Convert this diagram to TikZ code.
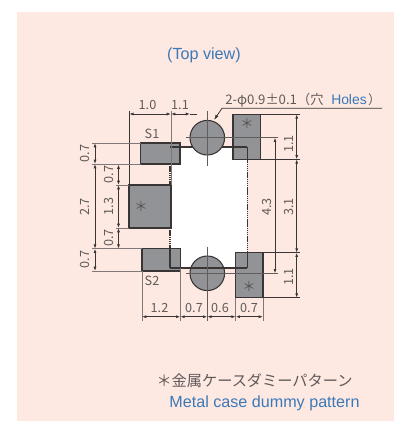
\documentclass[tikz,border=0pt]{standalone}
\usepackage{fontspec}
\setmainfont{Liberation Sans}
\newfontfamily\jpfont{Noto Sans CJK JP}
\usetikzlibrary{arrows.meta}
\definecolor{bgpink}{HTML}{FEE9E2}
\definecolor{padgray}{HTML}{929397}
\definecolor{inkdark}{HTML}{3A3535}
\definecolor{inkgray}{HTML}{7F7878}
\definecolor{txtgray}{HTML}{5F5A59}
\definecolor{txtblue}{HTML}{3B78B8}
\tikzset{
  x=0.75pt,y=-0.75pt,
  padbox/.style={fill=padgray,draw=inkdark,line width=0.8pt},
  extline/.style={draw=inkgray,line width=0.6pt},
  crossline/.style={draw=inkdark!80,line width=0.65pt},
  extdark/.style={draw=inkdark,line width=0.6pt},
  dimline/.style={draw=inkdark,line width=0.55pt,{Latex[length=3.2pt,width=2.2pt]}-{Latex[length=3.2pt,width=2.2pt]}},
  bodyline/.style={draw=inkdark,line width=0.95pt},
  bodydash/.style={draw=inkdark,line width=1pt,dash pattern=on 1.1pt off 0.5pt},
  dimtext/.style={font=\jpfont\fontsize{9.5pt}{11pt}\selectfont,text=txtgray,inner sep=0pt},
  dimv/.style={dimtext,rotate=90},
  startext/.style={font=\jpfont\fontsize{10pt}{12pt}\selectfont,text=inkdark!85,inner sep=0pt},
  bluetext/.style={font=\fontsize{12.1pt}{14pt}\selectfont,text=txtblue,inner sep=0pt},
}
\begin{document}
\begin{tikzpicture}
\useasboundingbox (0,0) rectangle (394,421);
\fill[bgpink] (17,12) rectangle (394,421);
% titles
\node[bluetext] (title) at (204,55) {(Top view)};
% body
\fill[white] (170,147) rectangle (247.3,268);
% pads
\draw[padbox] (140.7,143) rectangle (180,164);
\draw[padbox] (129,185) rectangle (171,228);
\draw[padbox] (142,248.7) rectangle (180.3,271);
\draw[padbox] (233,114.3) rectangle (260.7,159.3);
\draw[padbox] (235.7,252.7) rectangle (263,297.7);
% body outline, top edge runs under the hole
\draw[bodyline] (170,147) -- (247.3,147);
% holes
\draw[padbox] (207.3,137.7) circle (17.3);
\draw[padbox] (207.3,273.3) circle (17.3);
% body outline, rest
\draw[bodyline] (170,268) -- (247.3,268);
\draw[bodydash] (170,164) -- (170,185);
\draw[bodydash] (170,228) -- (170,268);
\draw[bodydash] (247.3,159.3) -- (247.3,252.7);
\draw[bodyline] (247.3,147) -- (247.3,159.3);
\draw[bodyline] (247.3,252.7) -- (247.3,268);
\draw[bodyline] (170,248.7) -- (170,268);
% extension lines, top and left
\draw[extdark] (129.3,111) -- (129.3,185);
\draw[extline] (171,111) -- (171,185);
\draw[crossline] (207.3,111) -- (207.3,165.5);
\draw[extline] (92,143) -- (141,143);
\draw[extline] (92,164) -- (141,164);
\draw[extline] (92,248.7) -- (142,248.7);
\draw[extline] (92,271) -- (142,271);
\draw[extline] (116,185) -- (129,185);
\draw[extline] (116,228) -- (129,228);
% extension lines, right
\draw[extdark] (260.7,114.3) -- (300,114.3);
\draw[extdark] (260.7,159.3) -- (300,159.3);
\draw[extdark] (263,252.7) -- (300,252.7);
\draw[extdark] (263,297.7) -- (300,297.7);
\draw[crossline] (186,137.7) -- (277.5,137.7);
\draw[crossline] (186,273.3) -- (277.5,273.3);
% extension lines, bottom
\draw[extline] (142,271) -- (142,321);
\draw[extline] (180.3,268) -- (180.3,321);
\draw[crossline] (207.3,246.5) -- (207.3,321);
\draw[extline] (235.7,297.7) -- (235.7,321);
\draw[extline] (263,297.7) -- (263,321);
% dimension lines
\draw[dimline] (129.3,114) -- (171,114);
\draw[dimline] (171,114) -- (190,114);
\draw[extdark] (190,114) -- (197,114);
\draw[dimline] (95,143) -- (95,164);
\draw[dimline] (95,164) -- (95,248.7);
\draw[dimline] (95,248.7) -- (95,271);
\draw[dimline] (118.5,164.5) -- (118.5,185);
\draw[dimline] (118.5,185) -- (118.5,228);
\draw[dimline] (118.5,228) -- (118.5,248.7);
\draw[dimline] (275,137.7) -- (275,273.3);
\draw[dimline] (296.7,114.3) -- (296.7,159.3);
\draw[dimline] (296.7,159.3) -- (296.7,252.7);
\draw[dimline] (296.7,252.7) -- (296.7,297.7);
\draw[dimline] (142,316.7) -- (180.3,316.7);
\draw[dimline] (180.3,316.7) -- (207.3,316.7);
\draw[dimline] (207.3,316.7) -- (235.7,316.7);
\draw[dimline] (235.7,316.7) -- (263,316.7);
% leader
\coordinate (leadEnd) at (382,108.3);
\coordinate (leadBend) at (222,108.3);
\coordinate (leadTip) at (214,120);
\draw[extdark,-{Latex[length=4pt,width=2.5pt]}] (leadEnd) -- (leadBend) -- (leadTip);
% dimension labels
\node[dimtext] (t10) at (147.5,105) {1.0};
\node[dimtext] (t11) at (180,105) {1.1};
\node[dimtext] (ts1) at (152,134) {S1};
\node[dimtext] (ts2) at (152,281) {S2};
\node[dimv] (l07a) at (85,153.5) {0.7};
\node[dimv] (l27) at (85,207) {2.7};
\node[dimv] (l07b) at (85,259.5) {0.7};
\node[dimv] (m07a) at (109,174.5) {0.7};
\node[dimv] (m13) at (109,206.5) {1.3};
\node[dimv] (m07b) at (109,238) {0.7};
\node[dimv] (r43) at (267,207) {4.3};
\node[dimv] (r11a) at (289,144) {1.1};
\node[dimv] (r31) at (289,207) {3.1};
\node[dimv] (r11b) at (289,277) {1.1};
\node[dimtext] (b12) at (159.5,308) {1.2};
\node[dimtext] (b07a) at (194,308) {0.7};
\node[dimtext] (b06) at (220,308) {0.6};
\node[dimtext] (b07b) at (249,308) {0.7};
% stars
\node[startext] (s1) at (141,206) {＊};
\node[startext] (s2) at (247,123.5) {＊};
\node[startext] (s3) at (249,286.5) {＊};
% hole label
\node[dimtext,anchor=base west,font=\jpfont\fontsize{9.9pt}{11pt}\selectfont] (holes) at (225,104) {2-φ0.9±0.1（穴};
\node[bluetext,anchor=base west,font=\fontsize{10.4pt}{12pt}\selectfont] (holesb) at (331,104) {Holes};
\node[dimtext,anchor=base east] (holesc) at (381,104) {）};
% legend
\node[font=\jpfont\fontsize{11.4pt}{13pt}\selectfont,text=txtgray,inner sep=0pt] (legj) at (254.5,380.7) {＊金属ケースダミーパターン};
\node[bluetext] (lege) at (264.5,403.3) {Metal case dummy pattern};
\end{tikzpicture}
\end{document}
